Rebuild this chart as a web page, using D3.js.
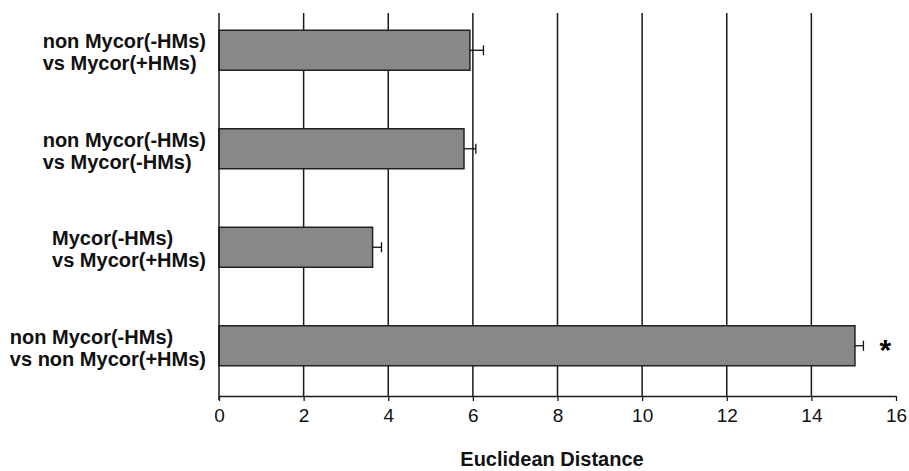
<!DOCTYPE html>
<html>
<head>
<meta charset="utf-8">
<script src="https://cdn.jsdelivr.net/npm/d3@7"></script>
<style>
  body { margin: 0; background: #fff; }
  svg { display: block; font-family: "Liberation Sans", Arial, sans-serif; }
</style>
</head>
<body>
<div id="chart"></div>
<script>
// top to bottom
const categories = [
    ["non Mycor(-HMs)", "vs Mycor(+HMs)"],
    ["non Mycor(-HMs)", "vs Mycor(-HMs)"],
    ["Mycor(-HMs)", "vs Mycor(+HMs)"],
    ["non Mycor(-HMs)", "vs non Mycor(+HMs)"]
];
const values = [5.93, 5.79, 3.63, 15.03];
const errors = [0.32, 0.28, 0.21, 0.20];
const marks = ["", "", "", "*"];
const tickValues = [0, 2, 4, 6, 8, 10, 12, 14, 16];
const gridValues = [2, 4, 6, 8, 10, 12, 14];

const width = 909, height = 471;

const svg = d3.select("#chart")
    .append("svg")
    .attr("width", width)
    .attr("height", height);

const x = d3.scaleLinear()
    .domain([0, 16])
    .range([219, 896]);

const y = d3.scaleBand()
    .domain(d3.range(categories.length))
    .range([1, 395])
    .paddingInner(0.594)
    .paddingOuter(0.297);

const axisY = 396, topY = 13;

// vertical grid lines
svg.append("g")
    .selectAll("line")
    .data(gridValues)
    .enter()
    .append("line")
    .attr("x1", d => x(d))
    .attr("x2", d => x(d))
    .attr("y1", topY)
    .attr("y2", axisY)
    .attr("stroke", "#1a1a1a")
    .attr("stroke-width", 1.5);

// bars
svg.append("g")
    .selectAll("rect")
    .data(values)
    .enter()
    .append("rect")
    .attr("x", x(0))
    .attr("y", (d, i) => y(i))
    .attr("width", d => x(d) - x(0))
    .attr("height", y.bandwidth())
    .attr("fill", "#888888")
    .attr("stroke", "#222")
    .attr("stroke-width", 1.5);

// error bars
const err = svg.append("g")
    .selectAll("g")
    .data(values)
    .enter()
    .append("g")
    .attr("stroke", "#111")
    .attr("stroke-width", 1.3);

err.append("line")
    .attr("x1", d => x(d))
    .attr("x2", (d, i) => x(d + errors[i]))
    .attr("y1", (d, i) => y(i) + y.bandwidth() / 2)
    .attr("y2", (d, i) => y(i) + y.bandwidth() / 2);

err.append("line")
    .attr("x1", (d, i) => x(d + errors[i]))
    .attr("x2", (d, i) => x(d + errors[i]))
    .attr("y1", (d, i) => y(i) + y.bandwidth() / 2 - 5)
    .attr("y2", (d, i) => y(i) + y.bandwidth() / 2 + 5);

// significance marks
svg.append("g")
    .selectAll("text")
    .data(marks)
    .enter()
    .append("text")
    .attr("x", (d, i) => x(values[i] + errors[i]) + 22)
    .attr("y", (d, i) => y(i) + y.bandwidth() / 2 + 14)
    .attr("text-anchor", "middle")
    .attr("font-size", 30)
    .attr("font-weight", "bold")
    .text(d => d);

// left axis line
svg.append("line")
    .attr("x1", x(0))
    .attr("x2", x(0))
    .attr("y1", topY)
    .attr("y2", axisY + 4)
    .attr("stroke", "#1a1a1a")
    .attr("stroke-width", 1.5);

// bottom axis
const xAxis = svg.append("g")
    .attr("transform", "translate(0," + axisY + ")")
    .call(d3.axisBottom(x).tickValues(tickValues).tickSize(5).tickSizeOuter(0).tickPadding(8));

xAxis.select(".domain").attr("stroke", "#1a1a1a").attr("stroke-width", 1.5);
xAxis.selectAll(".tick line").attr("stroke", "#1a1a1a").attr("stroke-width", 1.3);
xAxis.selectAll(".tick text")
    .attr("font-size", 19)
    .attr("font-family", "Liberation Sans, Arial, sans-serif")
    .attr("fill", "#111");

// axis title
svg.append("text")
    .attr("x", 552)
    .attr("y", 466)
    .attr("text-anchor", "middle")
    .attr("font-size", 20)
    .attr("font-weight", "bold")
    .attr("fill", "#111")
    .text("Euclidean Distance");

// category labels: block right-aligned, lines left-aligned inside
categories.forEach((lines, i) => {
    const t = svg.append("text")
        .attr("font-size", 20)
        .attr("font-weight", "bold")
        .attr("fill", "#111");
    const cy = y(i) + y.bandwidth() / 2 + 2;
    lines.forEach((s, j) => {
        t.append("tspan")
            .attr("y", cy + (j - 0.5) * 22 + 7)
            .text(s);
    });
    let maxW = 0;
    t.selectAll("tspan").each(function () {
        maxW = Math.max(maxW, this.getComputedTextLength());
    });
    t.selectAll("tspan").attr("x", 206 - maxW);
});
</script>
</body>
</html>
